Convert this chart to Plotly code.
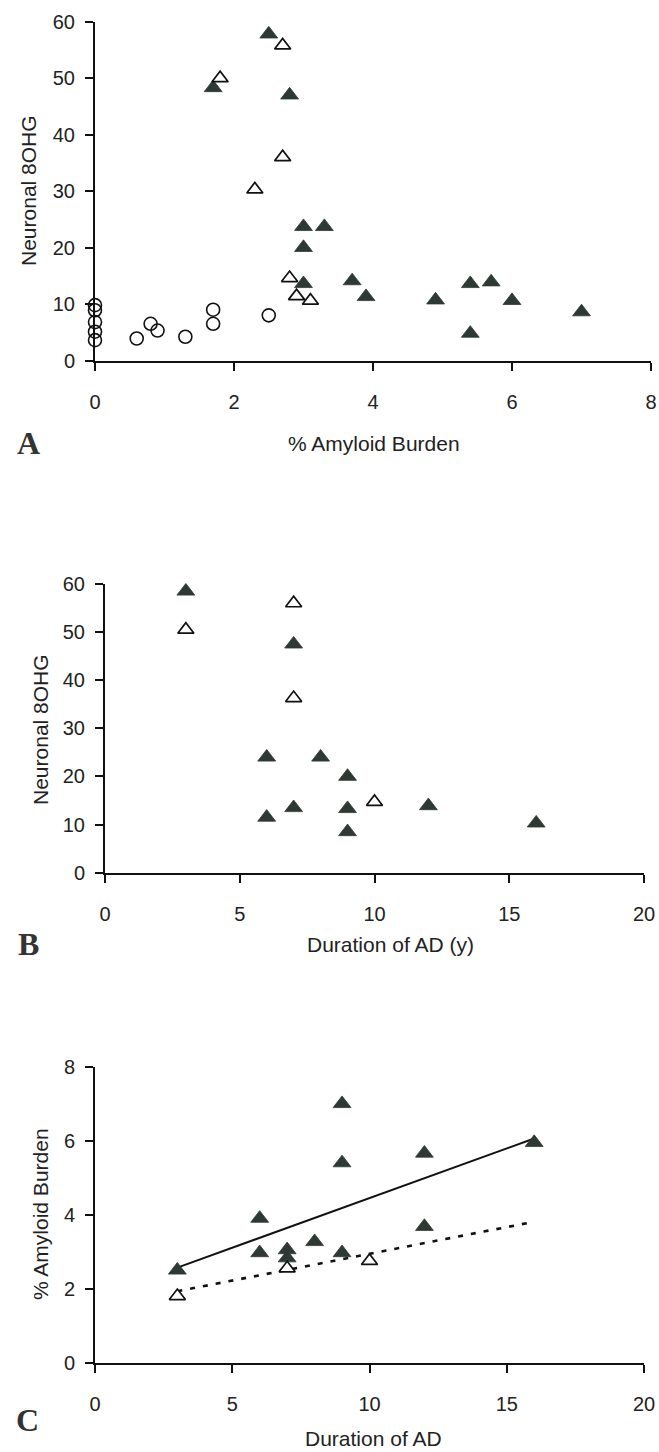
import plotly.graph_objects as go

W, H = 659, 1452

# ---------------- data ----------------
# Panel A: Neuronal 8OHG vs % Amyloid Burden
a_circle_x = [0, 0, 0, 0, 0, 0.6, 0.8, 0.9, 1.3, 1.7, 1.7, 2.5]
a_circle_y = [9.8, 8.9, 6.8, 5.1, 3.6, 3.9, 6.5, 5.3, 4.2, 9.0, 6.5, 8.0]
a_filled_x = [2.5, 1.7, 2.8, 3.0, 3.3, 3.0, 3.0, 3.7, 3.9, 4.9, 5.4, 5.7, 6.0, 7.0, 5.4]
a_filled_y = [57.8, 48.3, 47.0, 23.7, 23.7, 20.0, 13.6, 14.1, 11.3, 10.7, 13.6, 13.9, 10.6, 8.6, 4.8]
a_open_x = [1.8, 2.7, 2.7, 2.3, 2.8, 2.9, 3.1]
a_open_y = [50.0, 55.8, 36.0, 30.3, 14.6, 11.4, 10.6]
a_xticks = [0, 2, 4, 6, 8]
a_yticks = [0, 10, 20, 30, 40, 50, 60]

# Panel B: Neuronal 8OHG vs Duration of AD (y)
b_filled_x = [3, 7, 6, 8, 9, 6, 7, 9, 9, 12, 16]
b_filled_y = [58.5, 47.5, 24.0, 24.0, 20.0, 11.5, 13.5, 13.3, 8.5, 13.9, 10.3]
b_open_x = [3, 7, 7, 10]
b_open_y = [50.5, 56.0, 36.3, 14.7]
b_xticks = [0, 5, 10, 15, 20]
b_yticks = [0, 10, 20, 30, 40, 50, 60]

# Panel C: % Amyloid Burden vs Duration of AD
c_filled_x = [3, 6, 6, 7, 7, 8, 9, 9, 9, 12, 12, 16]
c_filled_y = [2.5, 3.9, 2.97, 3.05, 2.83, 3.27, 7.0, 5.4, 2.97, 5.66, 3.68, 5.95]
c_open_x = [3, 7, 10]
c_open_y = [1.8, 2.55, 2.75]
c_fit_solid_x = [3, 16]
c_fit_solid_y = [2.57, 6.06]
c_fit_dash_x = [3, 16]
c_fit_dash_y = [1.93, 3.81]
c_xticks = [0, 5, 10, 15, 20]
c_yticks = [0, 2, 4, 6, 8]

# ---------------- styling ----------------
FONT = "Liberation Sans, Arial, sans-serif"
DARK = "#2f3934"
INK = "#111111"
TRI = 15.5
TRI_OPEN = 14
CIRC = 13


def px_x(x):
    return x / W


def px_y(y):
    return 1 - y / H


fig = go.Figure()


def filled(x, y, ax):
    fig.add_trace(go.Scatter(x=x, y=y, mode="markers", xaxis=ax[0], yaxis=ax[1],
                             cliponaxis=False, showlegend=False,
                             marker=dict(symbol="triangle-up", size=TRI, color=DARK,
                                         line=dict(color=DARK, width=0.8))))


def opentri(x, y, ax):
    fig.add_trace(go.Scatter(x=x, y=y, mode="markers", xaxis=ax[0], yaxis=ax[1],
                             cliponaxis=False, showlegend=False,
                             marker=dict(symbol="triangle-up", size=TRI_OPEN, color="white",
                                         line=dict(color=INK, width=1.7))))


# Panel A
fig.add_trace(go.Scatter(x=a_circle_x, y=a_circle_y, mode="markers", xaxis="x", yaxis="y",
                         cliponaxis=False, showlegend=False,
                         marker=dict(symbol="circle-open", size=CIRC, color=INK,
                                     line=dict(color=INK, width=1.6))))
filled(a_filled_x, a_filled_y, ("x", "y"))
opentri(a_open_x, a_open_y, ("x", "y"))

# Panel B
filled(b_filled_x, b_filled_y, ("x2", "y2"))
opentri(b_open_x, b_open_y, ("x2", "y2"))

# Panel C (lines first, markers on top)
fig.add_trace(go.Scatter(x=c_fit_solid_x, y=c_fit_solid_y, mode="lines", xaxis="x3", yaxis="y3",
                         showlegend=False, line=dict(color=INK, width=2)))
fig.add_trace(go.Scatter(x=c_fit_dash_x, y=c_fit_dash_y, mode="lines", xaxis="x3", yaxis="y3",
                         showlegend=False, line=dict(color=INK, width=2.6, dash="5px,8px")))
filled(c_filled_x, c_filled_y, ("x3", "y3"))
opentri(c_open_x, c_open_y, ("x3", "y3"))


def xaxis(dom, rng, ticks, anchor):
    return dict(domain=dom, range=rng, tickvals=ticks, anchor=anchor,
                showline=True, linecolor=INK, linewidth=2, ticks="outside",
                ticklen=8, tickwidth=1.6, tickcolor=INK, showgrid=False, zeroline=False,
                tickfont=dict(family=FONT, size=20, color="#222"),
                ticklabelstandoff=14, ticklabeloverflow="allow",
                automargin=False, fixedrange=True)


def yaxis(dom, rng, ticks, anchor):
    return dict(domain=dom, range=rng, tickvals=ticks, anchor=anchor,
                showline=True, linecolor=INK, linewidth=2, ticks="outside",
                ticklen=8, tickwidth=1.6, tickcolor=INK, showgrid=False, zeroline=False,
                tickfont=dict(family=FONT, size=20, color="#222"),
                ticklabelstandoff=6, ticklabeloverflow="allow",
                automargin=False, fixedrange=True)


fig.update_layout(
    width=W, height=H,
    margin=dict(l=0, r=0, t=0, b=0),
    paper_bgcolor="white", plot_bgcolor="white",
    xaxis=xaxis([px_x(95), px_x(651)], [0, 8], a_xticks, "y"),
    yaxis=yaxis([px_y(360.5), px_y(21.7)], [0, 60], a_yticks, "x"),
    xaxis2=xaxis([px_x(105), px_x(644)], [0, 20], b_xticks, "y2"),
    yaxis2=yaxis([px_y(872.7), px_y(584)], [0, 60], b_yticks, "x2"),
    xaxis3=xaxis([px_x(95), px_x(644)], [0, 20], c_xticks, "y3"),
    yaxis3=yaxis([px_y(1362.7), px_y(1066.7)], [0, 8], c_yticks, "x3"),
)

ann = []


def text(x, y, t, size, rot=0, family=FONT, color="#222"):
    ann.append(dict(x=px_x(x), y=px_y(y), xref="paper", yref="paper", text=t,
                    showarrow=False, textangle=rot, xanchor="center", yanchor="middle",
                    font=dict(family=family, size=size, color=color)))


# axis titles
text(374, 443, "% Amyloid Burden", 21)
text(28, 191, "Neuronal 8OHG", 21, rot=-90)
text(390, 944, "Duration of AD (y)", 21)
text(40, 730, "Neuronal 8OHG", 21, rot=-90)
text(373, 1438, "Duration of AD", 21)
text(40, 1214, "% Amyloid Burden", 21, rot=-90)

# panel letters
SERIF = "Liberation Serif, Times New Roman, serif"
text(28, 443, "<b>A</b>", 32, family=SERIF, color="#333")
text(28, 944, "<b>B</b>", 32, family=SERIF, color="#333")
text(27, 1420, "<b>C</b>", 32, family=SERIF, color="#333")

fig.update_layout(annotations=ann)

fig.write_html("out.html",
               config={"displayModeBar": False},
               post_script="document.body.style.margin='0';document.body.style.overflow='hidden';")
